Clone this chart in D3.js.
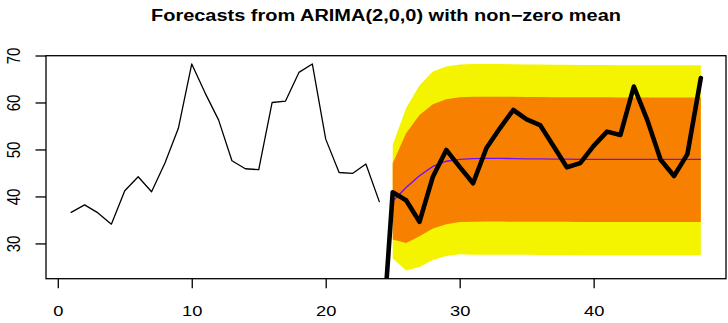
<!DOCTYPE html>
<html>
<head>
<meta charset="utf-8">
<script src="https://cdn.jsdelivr.net/npm/d3@7"></script>
<style>
  html, body { margin: 0; padding: 0; background: #fff; }
  svg { display: block; }
  text { font-family: "Liberation Sans", Arial, Helvetica, sans-serif; fill: #000; }
</style>
</head>
<body>
<svg id="chart" width="728" height="323"></svg>
<script>
// Observed series (t = 1..24)
const trainStart = 1;
const trainValues = [36.6, 38.2, 36.5, 34.1, 41.2, 44.2, 41.0, 47.1, 54.5, 68.2, 62.0, 56.3,
                     47.6, 45.9, 45.7, 60.0, 60.3, 66.4, 68.2, 52.2, 45.1, 44.9, 46.9, 38.9];

// Hold-out series drawn over the forecast (t = 24..48)
const testStart = 24;
const testValues = [0.0, 40.9, 39.2, 34.6, 44.2, 49.9, 46.3, 42.8, 50.3, 54.5, 58.4, 56.4, 55.2,
                    50.75, 46.2, 47.1, 50.75, 53.8, 53.1, 63.4, 56.3, 47.8, 44.35, 49.0, 65.2];

// Forecast (t = 25..48): point forecast and 80% / 95% intervals
const fcStart = 25;
const fcMean = [39.0, 41.9, 44.4, 46.4, 47.5, 47.9, 48.05, 48.1, 48.1, 48.05, 48.0, 48.0,
                47.95, 47.95, 47.9, 47.9, 47.9, 47.9, 47.9, 47.9, 47.9, 47.9, 47.9, 47.9];
const hi80 = [47.05, 53.45, 57.35, 59.6, 60.7, 61.1, 61.2, 61.2, 61.2, 61.2, 61.15, 61.15,
              61.1, 61.1, 61.1, 61.1, 61.1, 61.05, 61.05, 61.05, 61.05, 61.05, 61.05, 61.05];
const lo80 = [30.85, 30.1, 31.55, 33.2, 34.1, 34.55, 34.6, 34.65, 34.65, 34.6, 34.6, 34.6,
              34.6, 34.6, 34.55, 34.55, 34.55, 34.55, 34.55, 34.55, 34.55, 34.55, 34.55, 34.55];
const hi95 = [50.95, 58.8, 63.6, 66.6, 67.65, 68.1, 68.2, 68.2, 68.2, 68.15, 68.1, 68.1,
              68.05, 68.05, 68.0, 68.0, 68.0, 67.95, 67.95, 67.95, 67.95, 67.95, 67.95, 67.95];
const lo95 = [26.8, 24.25, 25.0, 26.45, 27.3, 27.7, 27.6, 27.6, 27.6, 27.6, 27.6, 27.55,
              27.55, 27.55, 27.5, 27.5, 27.5, 27.5, 27.5, 27.5, 27.5, 27.5, 27.5, 27.5];

const xTicks = [0, 10, 20, 30, 40];
const yTicks = [30, 40, 50, 60, 70];
const titleText = "Forecasts from ARIMA(2,0,0) with non\u2212zero mean";

const col95 = "#F4F400";
const col80 = "#F88000";
const colMean = "#6E10FF";

// Plot region
const plot = { left: 46, right: 726, top: 55.7, bottom: 278.7 };

const svg = d3.select("#chart");

const train = trainValues.map((v, i) => ({ t: trainStart + i, v }));
const test = testValues.map((v, i) => ({ t: testStart + i, v }));
const fc = fcMean.map((m, i) => ({
  t: fcStart + i, m, lo80: lo80[i], hi80: hi80[i], lo95: lo95[i], hi95: hi95[i]
}));

// Axis limits with the usual 4% padding around the data range
function padded(ext) {
  const p = (ext[1] - ext[0]) * 0.04;
  return [ext[0] - p, ext[1] + p];
}
const xExt = [d3.min(train, d => d.t), d3.max(fc, d => d.t)];
const yExt = [
  d3.min([d3.min(trainValues), d3.min(lo95)]),
  d3.max([d3.max(trainValues), d3.max(hi95)])
];

const x = d3.scaleLinear().domain(padded(xExt)).range([plot.left, plot.right]);
const y = d3.scaleLinear().domain(padded(yExt)).range([plot.bottom, plot.top]);

svg.append("defs").append("clipPath").attr("id", "plotClip")
  .append("rect")
  .attr("x", plot.left).attr("y", plot.top)
  .attr("width", plot.right - plot.left).attr("height", plot.bottom - plot.top);

const g = svg.append("g").attr("clip-path", "url(#plotClip)");

// Prediction intervals
g.append("path").datum(fc)
  .attr("fill", col95)
  .attr("d", d3.area().x(d => x(d.t)).y0(d => y(d.lo95)).y1(d => y(d.hi95)));
g.append("path").datum(fc)
  .attr("fill", col80)
  .attr("d", d3.area().x(d => x(d.t)).y0(d => y(d.lo80)).y1(d => y(d.hi80)));

// Observed series
g.append("path").datum(train)
  .attr("fill", "none").attr("stroke", "#000").attr("stroke-width", 1.3)
  .attr("stroke-linejoin", "round").attr("stroke-linecap", "round")
  .attr("d", d3.line().x(d => x(d.t)).y(d => y(d.v)));

// Point forecast
g.append("path").datum(fc)
  .attr("fill", "none").attr("stroke", colMean).attr("stroke-width", 1.4)
  .attr("d", d3.line().x(d => x(d.t)).y(d => y(d.m)));

// Hold-out series
g.append("path").datum(test)
  .attr("fill", "none").attr("stroke", "#000").attr("stroke-width", 4.6)
  .attr("stroke-linejoin", "round").attr("stroke-linecap", "round")
  .attr("d", d3.line().x(d => x(d.t)).y(d => y(d.v)));

// Box
svg.append("rect")
  .attr("x", plot.left).attr("y", plot.top)
  .attr("width", plot.right - plot.left).attr("height", plot.bottom - plot.top)
  .attr("fill", "none").attr("stroke", "#000").attr("stroke-width", 1.3);

// Bottom axis
const xAxis = svg.append("g").attr("transform", `translate(0,${plot.bottom})`)
  .call(d3.axisBottom(x).tickValues(xTicks).tickSize(9.5).tickPadding(0).tickFormat(d3.format("d")));
xAxis.select(".domain").remove();
xAxis.selectAll(".tick line").attr("stroke", "#000").attr("stroke-width", 1.3);
xAxis.selectAll(".tick text").remove();
xAxis.selectAll(".tick").append("text")
  .attr("text-anchor", "middle")
  .attr("font-size", 15)
  .attr("transform", "translate(0,37) scale(1.22,1)")
  .text(d => d);

// Left axis
const yAxis = svg.append("g").attr("transform", `translate(${plot.left},0)`)
  .call(d3.axisLeft(y).tickValues(yTicks).tickSize(10.5).tickPadding(0).tickFormat(d3.format("d")));
yAxis.select(".domain").remove();
yAxis.selectAll(".tick line").attr("stroke", "#000").attr("stroke-width", 1.3);
yAxis.selectAll(".tick text").remove();
yAxis.selectAll(".tick").append("text")
  .attr("text-anchor", "middle")
  .attr("font-size", 15)
  .attr("transform", "translate(-26.5,0) rotate(-90) scale(1,1.22)")
  .text(d => d);

// Title
svg.append("text")
  .attr("x", (plot.left + plot.right) / 2).attr("y", 21)
  .attr("text-anchor", "middle")
  .attr("font-size", 15.8).attr("font-weight", "bold")
  .attr("textLength", 470).attr("lengthAdjust", "spacingAndGlyphs")
  .text(titleText);
</script>
</body>
</html>
